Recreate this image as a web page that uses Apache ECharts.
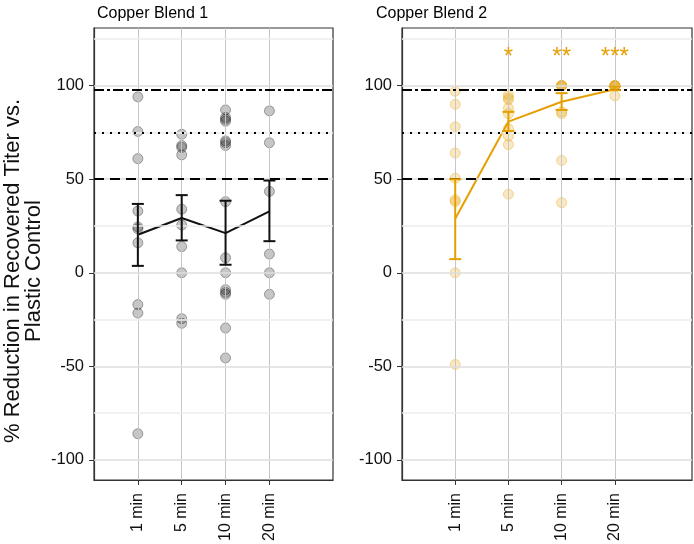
<!DOCTYPE html>
<html>
<head>
<meta charset="utf-8">
<script src="https://cdn.jsdelivr.net/npm/echarts@6/dist/echarts.min.js"></script>
<style>
html,body{margin:0;padding:0;background:#fff;}
#chart{width:694px;height:544px;}
</style>
</head>
<body>
<div id="chart"></div>
<script>
// ---- data ----
const categories = ['1 min', '5 min', '10 min', '20 min'];
const panelTitles = ['Copper Blend 1', 'Copper Blend 2'];
const yAxisTitle = '% Reduction in Recovered Titer vs.\nPlastic Control';
const yTicks = [-100, -50, 0, 50, 100];

// Copper Blend 1 individual replicates
const b1_1min  = [94, 75.5, 61, 33, 24.5, 23.5, 16, -17, -21.5, -86];
const b1_5min  = [74, 68, 67, 63, 34, 25.5, 14, 0, -24.5, -27];
const b1_10min = [87, 83, 82, 81, 70.5, 69.5, 68, 38, 8, 0, -9, -10.5, -11.5, -29.5, -45.5];
const b1_20min = [86.5, 69.5, 43.5, 10, 0, -11.5];
const b1Mean  = [20.3, 29.3, 21.2, 32.8];
const b1Lower = [3.7, 17.3, 4.3, 16.9];
const b1Upper = [36.8, 41.5, 38.5, 49.3];

// Copper Blend 2 individual replicates
const b2_1min  = [97, 90, 78, 64, 50.5, 39, 38, 0, -49];
const b2_5min  = [95, 93.5, 92.5, 88, 85, 77, 73, 68.5, 42];
const b2_10min = [100, 100, 100, 100, 86, 85, 60, 37.5];
const b2_20min = [100, 100, 100, 100, 100, 94.5];
const b2Mean  = [28.9, 80.8, 91.4, 98.1];
const b2Lower = [7.3, 75.8, 87, 97.6];
const b2Upper = [50, 86, 96, 99.6];

const sigLabels = ['', '*', '**', '***'];
const sigLevel = 115;

// reference thresholds
const refValues = [98, 75, 50];
const minorGrid = [125, 75, 25, -25, -75];

// ---- build ----
const FONT = 'Liberation Sans, Arial, Helvetica, sans-serif';
const ORANGE = '#E69F00';
const catPos = categories.map((c, i) => i + 1);

function pts(groups) {
  const out = [];
  groups.forEach((arr, i) => arr.forEach(v => out.push([i + 1, v])));
  return out;
}
function meanData(m) { return m.map((v, i) => [i + 1, v]); }
function errData(lo, hi) { return lo.map((v, i) => [i + 1, v, hi[i]]); }

const refStyles = [
  { type: [10, 3, 3, 3] },
  { type: [2, 6] },
  { type: [10, 6] }
];

function xAxis(gi) {
  return {
    type: 'value', gridIndex: gi, min: 0, max: 5.45,
    splitLine: { show: false },
    axisLine: { show: true, onZero: false, lineStyle: { color: '#333', width: 1.2 } },
    axisTick: { show: true, length: 5, customValues: catPos, lineStyle: { color: '#333' } },
    axisLabel: {
      customValues: catPos, rotate: 90, margin: 13,
      fontFamily: FONT, fontSize: 16, color: '#111',
      formatter: v => (v >= 1 && v <= categories.length && Number.isInteger(v)) ? categories[v - 1] : ''
    }
  };
}
function yAxis(gi) {
  return {
    type: 'value', gridIndex: gi, min: -110.7, max: 130.8,
    axisLine: { show: true, onZero: false, lineStyle: { color: '#333', width: 1.2 } },
    axisTick: { show: true, length: 5, customValues: yTicks, lineStyle: { color: '#333' } },
    axisLabel: {
      customValues: yTicks,
      margin: 10, fontFamily: FONT, fontSize: 16.5, color: '#111',
      formatter: v => (yTicks.indexOf(v) >= 0 ? String(v) : '')
    },
    splitLine: { show: false }
  };
}

function gridSeries(gi) {
  return {
    type: 'line', xAxisIndex: gi, yAxisIndex: gi, data: [], z: 1, silent: true,
    markLine: {
      silent: true, symbol: 'none', animation: false, label: { show: false },
      data: [
        ...catPos.map(x => ({ xAxis: x, lineStyle: { color: '#c6c6c6', width: 1, type: 'solid' } })),
        ...minorGrid.map(y => ({ yAxis: y, lineStyle: { color: '#ececec', width: 1.5, type: 'solid' } })),
        ...yTicks.map(y => ({ yAxis: y, lineStyle: { color: '#dedede', width: 1.5, type: 'solid' } }))
      ]
    }
  };
}
function refSeries(gi) {
  return {
    type: 'line', xAxisIndex: gi, yAxisIndex: gi, data: [], z: 2, silent: true,
    markLine: {
      silent: true, symbol: 'none', animation: false, label: { show: false },
      data: refValues.map((y, i) => ({ yAxis: y, lineStyle: Object.assign({ color: '#000', width: 2 }, refStyles[i]) }))
    }
  };
}
function pointSeries(gi, data, fill, stroke) {
  return {
    type: 'scatter', xAxisIndex: gi, yAxisIndex: gi, data: data, z: 3,
    symbol: 'circle', symbolSize: 10, animation: false,
    itemStyle: { color: fill, borderColor: stroke, borderWidth: 1 }
  };
}
function meanSeries(gi, data, color) {
  return {
    type: 'line', xAxisIndex: gi, yAxisIndex: gi, data: data, z: 4,
    showSymbol: false, symbol: 'none', animation: false,
    lineStyle: { color: color, width: 2 }
  };
}
function errSeries(gi, data, color) {
  return {
    type: 'custom', xAxisIndex: gi, yAxisIndex: gi, data: data, z: 5, animation: false,
    encode: { x: 0, y: [1, 2] },
    renderItem: function (params, api) {
      const x = api.value(0);
      const lo = api.coord([x, api.value(1)]);
      const hi = api.coord([x, api.value(2)]);
      const hw = 6;
      const st = { stroke: color, lineWidth: 2 };
      return {
        type: 'group', children: [
          { type: 'line', shape: { x1: lo[0], y1: lo[1], x2: hi[0], y2: hi[1] }, style: st },
          { type: 'line', shape: { x1: lo[0] - hw, y1: lo[1], x2: lo[0] + hw, y2: lo[1] }, style: st },
          { type: 'line', shape: { x1: hi[0] - hw, y1: hi[1], x2: hi[0] + hw, y2: hi[1] }, style: st }
        ]
      };
    }
  };
}
function sigSeries(gi) {
  return {
    type: 'custom', xAxisIndex: gi, yAxisIndex: gi, z: 6, animation: false,
    data: sigLabels.map((s, i) => [i + 1, sigLevel]),
    encode: { x: 0, y: 1 },
    renderItem: function (params, api) {
      const p = api.coord([api.value(0), api.value(1)]);
      const t = sigLabels[params.dataIndex];
      return {
        type: 'text', x: p[0], y: p[1],
        style: { text: t, fill: ORANGE, font: '24px ' + FONT, align: 'center', verticalAlign: 'middle' }
      };
    }
  };
}

const chart = echarts.init(document.getElementById('chart'), null, { renderer: 'canvas' });
chart.setOption({
  backgroundColor: '#fff',
  animation: false,
  title: [
    { text: panelTitles[0], left: 92, top: 1, textStyle: { fontFamily: FONT, fontSize: 16, fontWeight: 'normal', color: '#000' } },
    { text: panelTitles[1], left: 371, top: 1, textStyle: { fontFamily: FONT, fontSize: 16, fontWeight: 'normal', color: '#000' } }
  ],
  grid: [
    { left: 94, top: 28, width: 239, height: 452, show: true, borderColor: '#333', borderWidth: 1.2, backgroundColor: 'transparent' },
    { left: 402, top: 28, width: 290, height: 452, show: true, borderColor: '#333', borderWidth: 1.2, backgroundColor: 'transparent' }
  ],
  xAxis: [xAxis(0), xAxis(1)],
  yAxis: [yAxis(0), yAxis(1)],
  graphic: [{
    type: 'text', x: 23, y: 271, rotation: Math.PI / 2,
    style: { text: yAxisTitle, font: '22px ' + FONT, fill: '#111', align: 'center', verticalAlign: 'middle', lineHeight: 21 }
  }],
  series: [
    gridSeries(0), gridSeries(1),
    refSeries(0), refSeries(1),
    pointSeries(0, pts([b1_1min, b1_5min, b1_10min, b1_20min]), 'rgba(0,0,0,0.28)', 'rgba(0,0,0,0.4)'),
    pointSeries(1, pts([b2_1min, b2_5min, b2_10min, b2_20min]), 'rgba(230,159,0,0.3)', 'rgba(230,159,0,0.45)'),
    meanSeries(0, meanData(b1Mean), '#111'),
    meanSeries(1, meanData(b2Mean), ORANGE),
    errSeries(0, errData(b1Lower, b1Upper), '#111'),
    errSeries(1, errData(b2Lower, b2Upper), ORANGE),
    sigSeries(1)
  ]
});
</script>
</body>
</html>
